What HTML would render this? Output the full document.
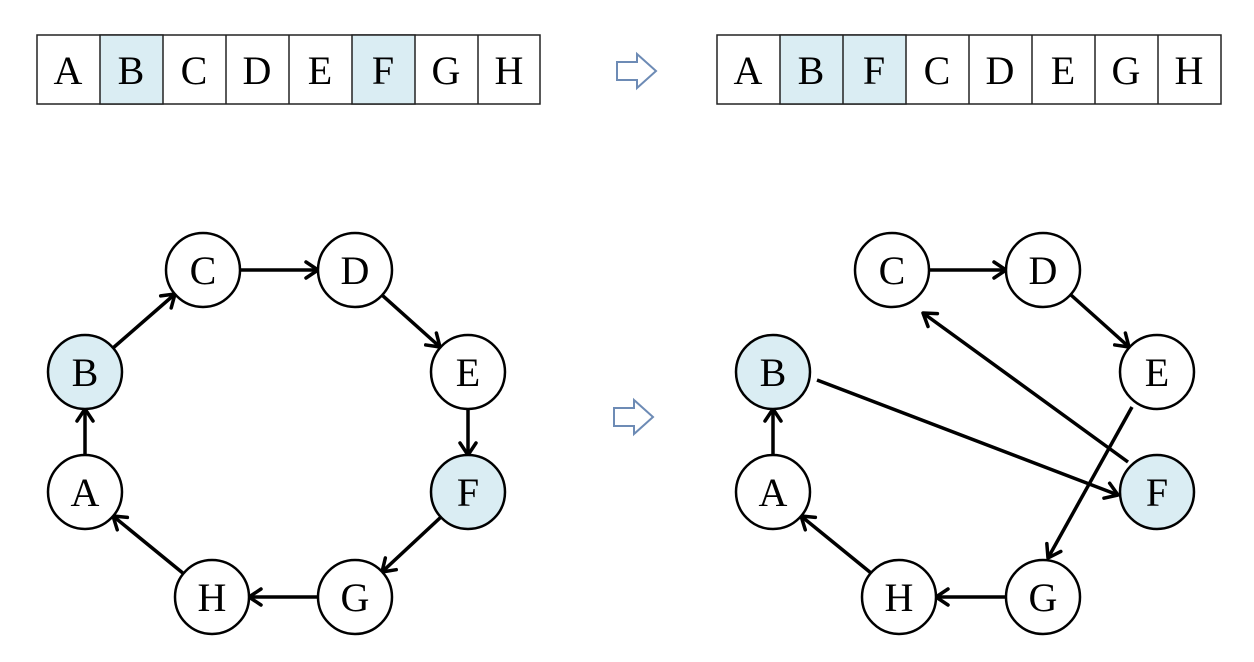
<!DOCTYPE html>
<html><head><meta charset="utf-8"><style>
html,body{margin:0;padding:0;background:#fff;width:1254px;height:662px;overflow:hidden}
text{font-family:"Liberation Serif",serif;}
</style></head><body>
<svg width="1254" height="662" viewBox="0 0 1254 662" xmlns="http://www.w3.org/2000/svg">
<defs>
<marker id="ar" markerUnits="userSpaceOnUse" markerWidth="30" markerHeight="30" refX="14" refY="10" orient="auto" viewBox="0 0 30 20">
<path d="M2,2 L14,10 L2,18" fill="none" stroke="#000" stroke-width="3.5" stroke-linecap="round" stroke-linejoin="round"/>
</marker>
</defs>
<!-- arrays -->
<g stroke="#222" stroke-width="1.5">
<rect x="37" y="35" width="503" height="69" fill="#fff"/>
<rect x="100" y="35" width="63" height="69" fill="#daedf3"/>
<rect x="352" y="35" width="63" height="69" fill="#daedf3"/>
<line x1="226" y1="35" x2="226" y2="104"/><line x1="289" y1="35" x2="289" y2="104"/>
<line x1="478" y1="35" x2="478" y2="104"/>
<rect x="717" y="35" width="504" height="69" fill="#fff"/>
<rect x="780" y="35" width="126" height="69" fill="#daedf3"/>
<line x1="843" y1="35" x2="843" y2="104"/>
<line x1="969" y1="35" x2="969" y2="104"/><line x1="1032" y1="35" x2="1032" y2="104"/><line x1="1095" y1="35" x2="1095" y2="104"/><line x1="1158" y1="35" x2="1158" y2="104"/>
</g>
<g font-size="40" text-anchor="middle" fill="#000">
<text x="68" y="84">A</text><text x="131" y="84">B</text><text x="194" y="84">C</text><text x="257" y="84">D</text><text x="320" y="84">E</text><text x="383" y="84">F</text><text x="446" y="84">G</text><text x="509" y="84">H</text>
<text x="748" y="84">A</text><text x="811" y="84">B</text><text x="874" y="84">F</text><text x="937" y="84">C</text><text x="1000" y="84">D</text><text x="1063" y="84">E</text><text x="1126" y="84">G</text><text x="1189" y="84">H</text>
</g>
<!-- hollow arrows -->
<g fill="#fff" stroke="#6d8bb5" stroke-width="2">
<path d="M617,62 L637,62 L637,54 L656,71 L637,88 L637,80 L617,80 Z"/>
<path d="M614,408 L634,408 L634,400 L653,417 L634,434 L634,426 L614,426 Z"/>
</g>
<!-- edges -->
<g stroke="#000" stroke-width="3.5" marker-end="url(#ar)" fill="none">
<line x1="113" y1="348" x2="175" y2="294"/>
<line x1="240" y1="270" x2="318" y2="270"/>
<line x1="382" y1="295" x2="440" y2="347"/>
<line x1="468" y1="409" x2="468" y2="455"/>
<line x1="441" y1="517" x2="382" y2="572"/>
<line x1="318" y1="597" x2="249" y2="597"/>
<line x1="184" y1="574" x2="113" y2="516"/>
<line x1="85" y1="455" x2="85" y2="409"/>
<line x1="929" y1="270" x2="1006" y2="270"/>
<line x1="1071" y1="295" x2="1129" y2="347"/>
<line x1="1006" y1="597" x2="936" y2="597"/>
<line x1="871" y1="573" x2="801" y2="516"/>
<line x1="773" y1="455" x2="773" y2="409"/>
<line x1="817" y1="380" x2="1118" y2="495"/>
<line x1="1132" y1="407" x2="1048" y2="558"/>
<line x1="1128" y1="462" x2="923" y2="313"/>
</g>
<!-- nodes -->
<g stroke="#000" stroke-width="2.5">
<circle cx="203" cy="270" r="37" fill="#fff"/><circle cx="355" cy="270" r="37" fill="#fff"/>
<circle cx="468" cy="372" r="37" fill="#fff"/><circle cx="468" cy="492" r="37" fill="#daedf3"/>
<circle cx="355" cy="597" r="37" fill="#fff"/><circle cx="212" cy="597" r="37" fill="#fff"/>
<circle cx="85" cy="492" r="37" fill="#fff"/><circle cx="85" cy="372" r="37" fill="#daedf3"/>
<circle cx="892" cy="270" r="37" fill="#fff"/><circle cx="1043" cy="270" r="37" fill="#fff"/>
<circle cx="1157" cy="372" r="37" fill="#fff"/><circle cx="1157" cy="492" r="37" fill="#daedf3"/>
<circle cx="1043" cy="597" r="37" fill="#fff"/><circle cx="899" cy="597" r="37" fill="#fff"/>
<circle cx="773" cy="492" r="37" fill="#fff"/><circle cx="773" cy="372" r="37" fill="#daedf3"/>
</g>
<g font-size="40" text-anchor="middle" fill="#000">
<text x="203" y="284">C</text><text x="355" y="284">D</text><text x="468" y="386">E</text><text x="468" y="506">F</text>
<text x="355" y="611">G</text><text x="212" y="611">H</text><text x="85" y="506">A</text><text x="85" y="386">B</text>
<text x="892" y="284">C</text><text x="1043" y="284">D</text><text x="1157" y="386">E</text><text x="1157" y="506">F</text>
<text x="1043" y="611">G</text><text x="899" y="611">H</text><text x="773" y="506">A</text><text x="773" y="386">B</text>
</g>
</svg>
</body></html>
